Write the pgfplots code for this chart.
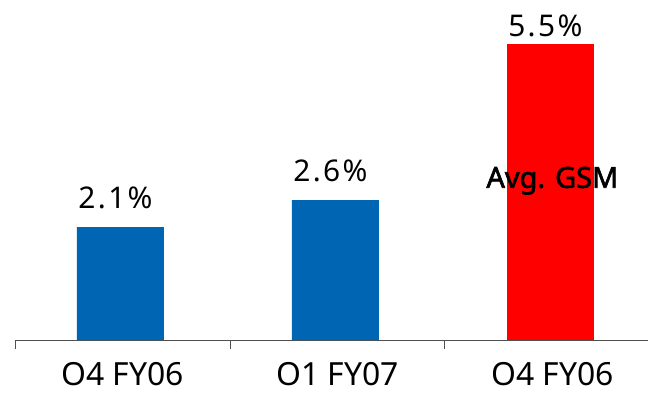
\documentclass[border=0pt]{standalone}
\usepackage{pgfplots}
\pgfplotsset{compat=1.18}
\usepackage{fontspec}
\setmainfont{Noto Sans}
\newfontfamily\valfont[LetterSpace=8]{Noto Sans}
\newfontfamily\gsmfont[FakeBold=2.2]{Noto Sans}
\definecolor{barblue}{RGB}{0,102,179}
\definecolor{barred}{RGB}{255,0,0}
\definecolor{axisgray}{RGB}{80,80,80}
\begin{document}
\begin{tikzpicture}
\begin{axis}[
  at={(15bp,54bp)}, anchor=south west,
  scale only axis, width=633bp, height=340bp,
  xmin=-0.5, xmax=2.445, ymin=0, ymax=6.32,
  axis x line=bottom, axis y line=none,
  axis line style={axisgray, line width=0.8pt, -},
  xtick={0,1,2},
  xticklabels={O4 FY06, O1 FY07, O4 FY06},
  major tick length=0pt,
  minor xtick={-0.5,0.5,1.5},
  minor tick length=9bp,
  tick align=outside,
  minor tick style={axisgray, line width=0.8pt},
  xticklabel style={font=\fontsize{32}{36}\selectfont, inner sep=0pt, yshift=-22bp},
  ybar, bar width=0.405, bar shift=-2bp,
  /pgf/number format/assume math mode=true,
  nodes near coords={\pgfmathprintnumber[fixed,precision=1,fixed zerofill]{\pgfplotspointmeta}\%},
  every node near coord/.append style={font=\valfont\fontsize{30}{34}\selectfont, text=black, xshift=-5bp},
  clip=false,
]
\addplot[fill=barblue, draw=none, every node near coord/.append style={yshift=15bp}]
  coordinates {(0,2.1) (1,2.6)};
\addplot[fill=barred, draw=none, every node near coord/.append style={yshift=4bp}]
  coordinates {(2,5.5)};
\node[font=\gsmfont\fontsize{29}{33}\selectfont, text=black] at (axis cs:2,2.96) {Avg. GSM};
\end{axis}
\pgfresetboundingbox
\path[use as bounding box] (0,0) rectangle (648bp,394bp);
\end{tikzpicture}
\end{document}
